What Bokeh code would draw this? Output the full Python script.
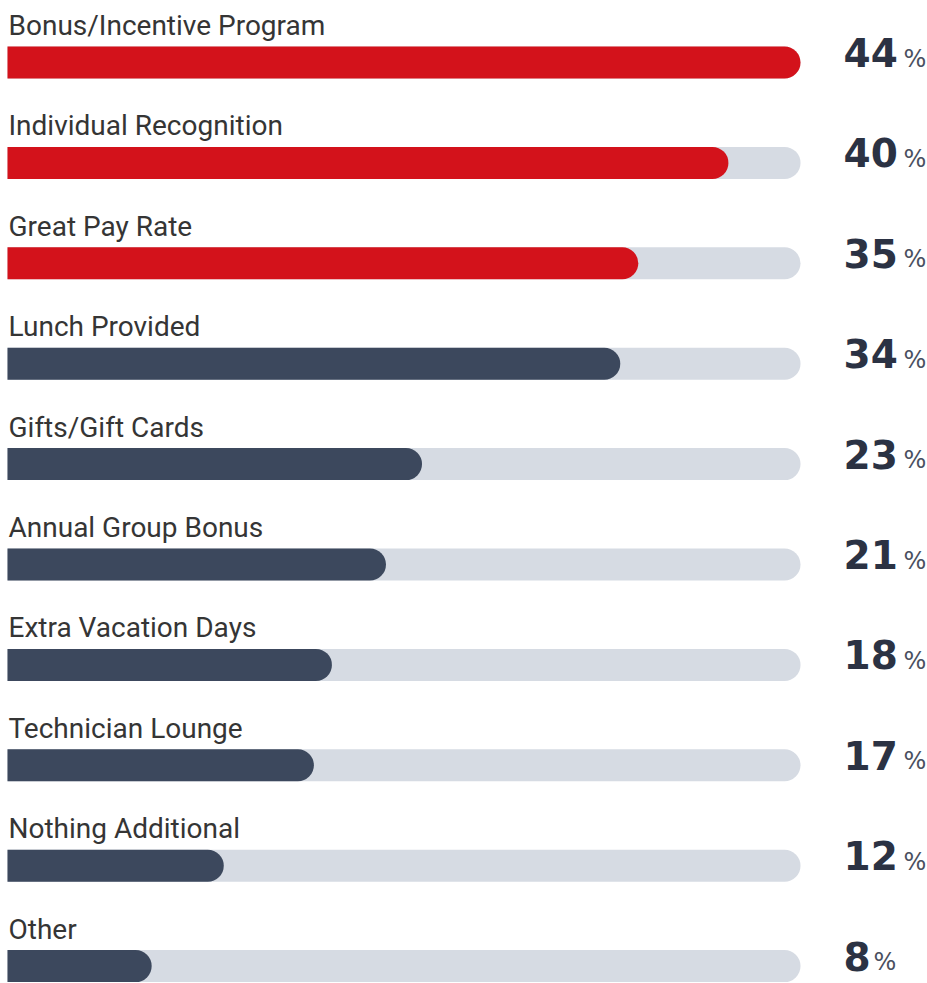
from bokeh.plotting import figure
from bokeh.models import ColumnDataSource, Range1d
from bokeh.core.properties import value
from bokeh.embed import file_html
from bokeh.resources import INLINE

categories = ["Bonus/Incentive Program", "Individual Recognition", "Great Pay Rate",
              "Lunch Provided", "Gifts/Gift Cards", "Annual Group Bonus",
              "Extra Vacation Days", "Technician Lounge", "Nothing Additional", "Other"]
values = [44, 40, 35, 34, 23, 21, 18, 17, 12, 8]
highlight = [True, True, True, False, False, False, False, False, False, False]

RED = "#d3121b"
NAVY = "#3c485d"
TRACK = "#d6dbe3"
LABEL = "#353535"
NUM = "#2b3243"

W, H = 927, 983
track_max = max(values)
left_px, right_px = 7.0, 800.0
px_per_unit = (right_px - left_px) / track_max
x_start = -left_px / px_per_unit
x_end = x_start + W / px_per_unit
row_px = 100.4
top_px = 62.0
y_top = -top_px / row_px
y_bottom = (H - top_px) / row_px

idx = list(range(len(categories)))
src = ColumnDataSource(dict(
    y=idx,
    v=values,
    track=[track_max] * len(values),
    color=[RED if h else NAVY for h in highlight],
    name=categories,
    num=[str(v) for v in values],
    pct=["%"] * len(values),
    pct_off=[len(str(v)) * 30.0 for v in values],
))

p = figure(width=W, height=H, output_backend="svg", toolbar_location=None,
           x_range=Range1d(x_start, x_end), y_range=Range1d(y_bottom, y_top),
           min_border=0, min_border_left=0, min_border_right=0,
           min_border_top=0, min_border_bottom=0)
p.axis.visible = False
p.grid.visible = False
p.outline_line_color = None
p.background_fill_color = "white"
p.border_fill_color = "white"

bar_h = 32.0 / row_px
p.hbar(y="y", left=0, right="track", height=bar_h, source=src,
       fill_color=TRACK, line_color=None, border_radius=(0, 16, 16, 0))
p.hbar(y="y", left=0, right="v", height=bar_h, source=src,
       fill_color="color", line_color=None, border_radius=(0, 16, 16, 0))

p.text(x=0, y="y", text="name", source=src, x_offset=1, y_offset=-37,
       text_font=value("Roboto"), text_font_size="28px", text_color=LABEL,
       text_baseline="alphabetic", text_align="left")

num_x = (843 - left_px) / px_per_unit
p.text(x=num_x, y="y", text="num", source=src, y_offset=-10,
       text_font=value("DejaVu Sans"), text_font_style="bold", text_font_size="39px",
       text_color=NUM, text_baseline="alphabetic", text_align="left")
p.text(x=num_x, y="y", text="pct", source=src, y_offset=-4, x_offset="pct_off",
       text_font=value("DejaVu Sans"), text_font_size="24px",
       text_color="#4a5060", text_baseline="alphabetic", text_align="left")

open("out.html", "w").write(file_html(p, INLINE))
